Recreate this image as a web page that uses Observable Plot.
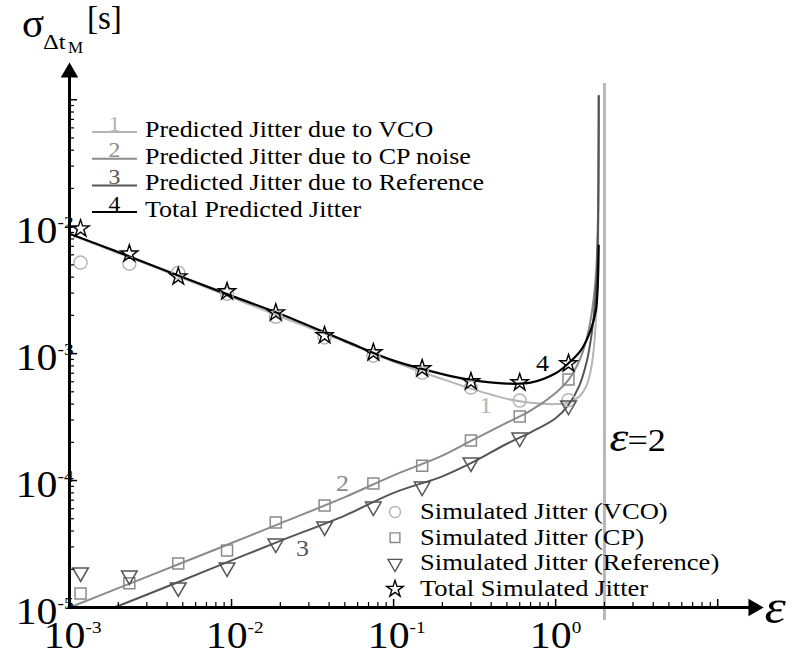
<!DOCTYPE html>
<html><head><meta charset="utf-8">
<script src="https://cdn.jsdelivr.net/npm/d3@7"></script>
<script src="https://cdn.jsdelivr.net/npm/@observablehq/plot@0.6"></script>
<style>body{margin:0;background:#fff;} svg{display:block;}</style>
</head><body><div id="chart"></div>
<script>
const serif = "'Liberation Serif','Times New Roman',serif";
const cVCO = "#b5b5b5", cCP = "#8a8a8a", cRef = "#555555", cTot = "#000000";

// ---- simulated points ----
const epsSim   = [0.00117, 0.00234, 0.00469, 0.00938, 0.01875, 0.0375, 0.075, 0.15, 0.3, 0.6, 1.2];
const simVCO   = [5.21e-3, 5.11e-3, 4.34e-3, 2.96e-3, 1.95e-3, 1.34e-3, 9.64e-4, 7.08e-4, 5.4e-4, 4.27e-4, 4.3e-4];
const simCP    = [1.29e-5, 1.55e-5, 2.22e-5, 2.81e-5, 4.67e-5, 6.35e-5, 9.46e-5, 1.31e-4, 2.07e-4, 3.19e-4, 6.24e-4];
const simRef   = [1.89e-5, 1.79e-5, 1.44e-5, 2.07e-5, 3.19e-5, 4.35e-5, 6.24e-5, 8.97e-5, 1.39e-4, 2.18e-4, 3.9e-4];
const simTotal = [9.64e-3, 6.12e-3, 4.04e-3, 3.08e-3, 2.10e-3, 1.39e-3, 1.02e-3, 7.62e-4, 6.03e-4, 5.92e-4, 8.34e-4];

// ---- predicted curves ----
const epsPredVCO = [0.001, 0.002, 0.005, 0.01, 0.02, 0.05, 0.1, 0.2, 0.3, 0.5, 0.7, 1.0, 1.2, 1.4, 1.55, 1.65, 1.72, 1.77, 1.81, 1.83, 1.84, 1.845];
const predVCO    = [8.75e-3, 6.2e-3, 3.92e-3, 2.77e-3, 1.96e-3, 1.24e-3, 8.6e-4, 6.3e-4, 5.3e-4, 4.4e-4, 4.1e-4, 4.0e-4, 4.1e-4, 4.6e-4, 5.6e-4, 7.5e-4, 1.1e-3, 1.8e-3, 3.5e-3, 8e-3, 2.5e-2, 0.107];
const epsPredCP  = [0.001, 0.002, 0.005, 0.01, 0.02, 0.05, 0.1, 0.2, 0.3, 0.5, 0.7, 1.0, 1.2, 1.4, 1.55, 1.65, 1.72, 1.78, 1.82, 1.84, 1.845];
const predCP     = [1.0e-5, 1.42e-5, 2.26e-5, 3.22e-5, 4.6e-5, 7.4e-5, 1.1e-4, 1.57e-4, 2.05e-4, 2.86e-4, 3.55e-4, 4.9e-4, 6.2e-4, 8.8e-4, 1.3e-3, 1.9e-3, 2.8e-3, 4.5e-3, 1e-2, 4e-2, 0.107];
const epsPredRef = [0.00187, 0.002, 0.005, 0.01, 0.02, 0.05, 0.1, 0.2, 0.3, 0.5, 0.7, 1.0, 1.2, 1.4, 1.55, 1.65, 1.72, 1.78, 1.82, 1.84, 1.845];
const predRef    = [1.0e-5, 1.03e-5, 1.64e-5, 2.35e-5, 3.35e-5, 5.3e-5, 8.0e-5, 1.08e-4, 1.37e-4, 1.95e-4, 2.4e-4, 3.1e-4, 3.95e-4, 5.6e-4, 8.5e-4, 1.3e-3, 2.0e-3, 3.5e-3, 8e-3, 3.5e-2, 0.107];
const epsPredTot = [0.001, 0.002, 0.005, 0.01, 0.02, 0.05, 0.1, 0.2, 0.3, 0.5, 0.7, 1.0, 1.2, 1.43, 1.64, 1.77, 1.816, 1.843];
const predTot    = [8.8e-3, 6.3e-3, 4.0e-3, 2.85e-3, 2.05e-3, 1.26e-3, 8.8e-4, 6.9e-4, 6.2e-4, 5.8e-4, 5.9e-4, 7.0e-4, 8.4e-4, 1.06e-3, 1.52e-3, 2.18e-3, 3.3e-3, 7.1e-3];

// ---- axes ----
const xDomain = [0.001, 20];
const yDomain = [1e-5, 0.2];
const xMajor = [0.001, 0.01, 0.1, 1, 10];
const xMinor = [0.002,0.003,0.004,0.005,0.006,0.007,0.008,0.009,0.02,0.03,0.04,0.05,0.06,0.07,0.08,0.09,0.2,0.3,0.4,0.5,0.6,0.7,0.8,0.9,2,3,4,5,6,7,8,9];
const yMajor = [1e-5, 1e-4, 1e-3, 1e-2, 1e-1];
const yMinor = [2e-5,3e-5,4e-5,5e-5,6e-5,7e-5,8e-5,9e-5,2e-4,3e-4,4e-4,5e-4,6e-4,7e-4,8e-4,9e-4,2e-3,3e-3,4e-3,5e-3,6e-3,7e-3,8e-3,9e-3,2e-2,3e-2,4e-2,5e-2,6e-2,7e-2,8e-2,9e-2];
const yTickLabels = [{v:1e-5, e:"-5"}, {v:1e-4, e:"-4"}, {v:1e-3, e:"-3"}, {v:1e-2, e:"-2"}];
const xTickLabels = [{v:1e-3, e:"-3"}, {v:1e-2, e:"-2"}, {v:1e-1, e:"-1"}, {v:1, e:"0"}];
const asymptote = [2];

// ---- annotations ----
const curveLabels = [
  {t:"1", x:0.37, y:3.9e-4, c:cVCO},
  {t:"2", x:0.0484, y:9.5e-5, c:cCP},
  {t:"3", x:0.0274, y:2.92e-5, c:cRef},
  {t:"4", x:0.83, y:8.3e-4, c:cTot}
];
const epsLabel = [{x:2, y:1.72e-4}];
const predLegend = [
  {n:"1", label:"Predicted Jitter due to VCO", c:cVCO},
  {n:"2", label:"Predicted Jitter due to CP noise", c:cCP},
  {n:"3", label:"Predicted Jitter due to Reference", c:cRef},
  {n:"4", label:"Total Predicted Jitter", c:cTot}
];
const simLegend = [
  {s:"circle", label:"Simulated Jitter (VCO)", c:cVCO},
  {s:"square", label:"Simulated Jitter (CP)", c:cCP},
  {s:"triangle", label:"Simulated Jitter (Reference)", c:cRef},
  {s:"star", label:"Total Simulated Jitter", c:cTot}
];

const W = 794, H = 651, mL = 69, mR = 28, mT = 61, mB = 44;
const fW = W - mL - mR, fH = H - mT - mB;

const plot = Plot.plot({
  width: W, height: H, marginLeft: mL, marginRight: mR, marginTop: mT, marginBottom: mB,
  x: {type: "log", domain: xDomain, axis: null},
  y: {type: "log", domain: yDomain, axis: null},
  style: {fontFamily: serif, background: "white", overflow: "visible", color: "black"},
  marks: [
    Plot.ruleX(asymptote, {x: d => d, stroke: "#b8b8b8", strokeWidth: 3, insetTop: 22, insetBottom: -13}),
    Plot.line(epsPredVCO, {x: epsPredVCO, y: predVCO, stroke: cVCO, strokeWidth: 2, curve: "catmull-rom"}),
    Plot.line(epsPredCP, {x: epsPredCP, y: predCP, stroke: cCP, strokeWidth: 2, curve: "catmull-rom"}),
    Plot.line(epsPredRef, {x: epsPredRef, y: predRef, stroke: cRef, strokeWidth: 2, curve: "catmull-rom"}),
    Plot.line(epsPredTot, {x: epsPredTot, y: predTot, stroke: cTot, strokeWidth: 2.2, curve: "catmull-rom"}),
    Plot.dot(epsSim, {x: epsSim, y: simVCO, r: 6.5, stroke: cVCO, strokeWidth: 1.5, fill: "none"}),
    Plot.dot(epsSim, {x: epsSim, y: simCP, r: 6.2, symbol: "square", stroke: cCP, strokeWidth: 1.5, fill: "none"}),
    Plot.dot(epsSim, {x: epsSim, y: simRef, r: 5.8, symbol: "triangle", rotate: 180, stroke: cRef, strokeWidth: 1.5, fill: "none"}),
    Plot.dot(epsSim, {x: epsSim, y: simTotal, r: 5.4, symbol: "star", stroke: cTot, strokeWidth: 1.4, fill: "none"}),
    // axes
    Plot.tickX(xMinor, {x: d => d, insetTop: fH - 5, strokeWidth: 1.2}),
    Plot.tickX(xMajor, {x: d => d, insetTop: fH - 8, strokeWidth: 1.5}),
    Plot.tickY(yMinor, {y: d => d, insetRight: fW - 5, strokeWidth: 1.2}),
    Plot.tickY(yMajor, {y: d => d, insetRight: fW - 8, strokeWidth: 1.5}),
    Plot.ruleX([xDomain[0]], {x: d => d, strokeWidth: 3, insetTop: 10}),
    Plot.ruleY([yDomain[0]], {y: d => d, strokeWidth: 3, insetRight: 12, insetLeft: -1.5}),
    Plot.dot([0], {x: [xDomain[0]], y: [yDomain[1]], symbol: "triangle", r: 6.5, fill: "black", stroke: "none", dy: 11}),
    Plot.dot([0], {x: [xDomain[1]], y: [yDomain[0]], symbol: "triangle", rotate: 90, r: 6.5, fill: "black", stroke: "none", dx: -13}),
    // tick labels
    Plot.text(yTickLabels, {y: "v", text: () => "10", frameAnchor: "left", textAnchor: "end", lineAnchor: "bottom", dx: -12, dy: 16, fontSize: 37, fill: "black"}),
    Plot.text(yTickLabels, {y: "v", text: "e", frameAnchor: "left", textAnchor: "start", lineAnchor: "bottom", dx: -12, dy: 1, fontSize: 17, fill: "black"}),
    Plot.text(xTickLabels, {x: "v", text: () => "10", frameAnchor: "bottom", textAnchor: "end", lineAnchor: "bottom", dx: 16, dy: 40, fontSize: 37, fill: "black"}),
    Plot.text(xTickLabels, {x: "v", text: "e", frameAnchor: "bottom", textAnchor: "start", lineAnchor: "bottom", dx: 16, dy: 25, fontSize: 17, fill: "black"}),
    // annotations
    Plot.text(curveLabels, {x: "x", y: "y", text: "t", fill: "c", fontSize: 23}),
    Plot.text(epsLabel, {x: "x", y: "y", text: () => "ε", fontStyle: "italic", fontSize: 42, textAnchor: "start", lineAnchor: "bottom", dx: 5, fill: "black"}),
    Plot.text(epsLabel, {x: "x", y: "y", text: () => "=2", fontSize: 32, textAnchor: "start", lineAnchor: "bottom", dx: 23, fill: "black"}),
    Plot.text([0], {x: [xDomain[1]], y: [yDomain[0]], text: () => "ε", fontStyle: "italic", fontSize: 48, textAnchor: "start", lineAnchor: "bottom", dx: -2, dy: 15, fill: "black"})
  ]
});

const stretch = 1.13;
d3.select(plot).selectAll("text").each(function () {
  const t = this.getAttribute("transform") || "";
  this.setAttribute("transform", t + ` scale(${stretch},1)`);
});

const svg = d3.select(plot);
const g = svg.append("g").attr("text-anchor", "start");
function txt(tr, size, s, color, anchor) {
  return g.append("text").attr("transform", tr)
    .style("font-family", serif).style("font-size", size + "px")
    .attr("text-anchor", anchor || "start").attr("fill", color || "black").text(s);
}

// y-axis title
txt("translate(22,37)", 41, "σ");
txt(`translate(43,49) scale(1.12,1)`, 22, "Δt");
txt("translate(68,53)", 17, "M");
txt("translate(87,29)", 33, "[s]");

// predicted legend
predLegend.forEach((d, i) => {
  const y = 132 + i * 26.7;
  g.append("line").attr("x1", 92).attr("x2", 137).attr("y1", y).attr("y2", y).attr("stroke", d.c).attr("stroke-width", 2);
  txt(`translate(114.5,${y - 1.5}) scale(${stretch},1)`, 21, d.n, d.c, "middle");
  txt(`translate(145,${y + 5}) scale(${stretch},1)`, 23, d.label);
});

// simulated legend
const symMap = {circle: d3.symbolCircle, square: d3.symbolSquare, triangle: d3.symbolTriangle, star: d3.symbolStar};
const rMap = {circle: 5.5, square: 5.5, triangle: 5.2, star: 5.2};
simLegend.forEach((d, i) => {
  const y = 512 + i * 25.7;
  const r = rMap[d.s];
  g.append("path").attr("d", d3.symbol(symMap[d.s], Math.PI * r * r)())
    .attr("transform", `translate(395,${y})${d.s === "triangle" ? " rotate(180)" : ""}`)
    .attr("fill", "none").attr("stroke", d.c).attr("stroke-width", 1.4);
  txt(`translate(420,${y + 7}) scale(${stretch},1)`, 23.5, d.label);
});

document.getElementById("chart").appendChild(plot);
</script>
</body></html>
